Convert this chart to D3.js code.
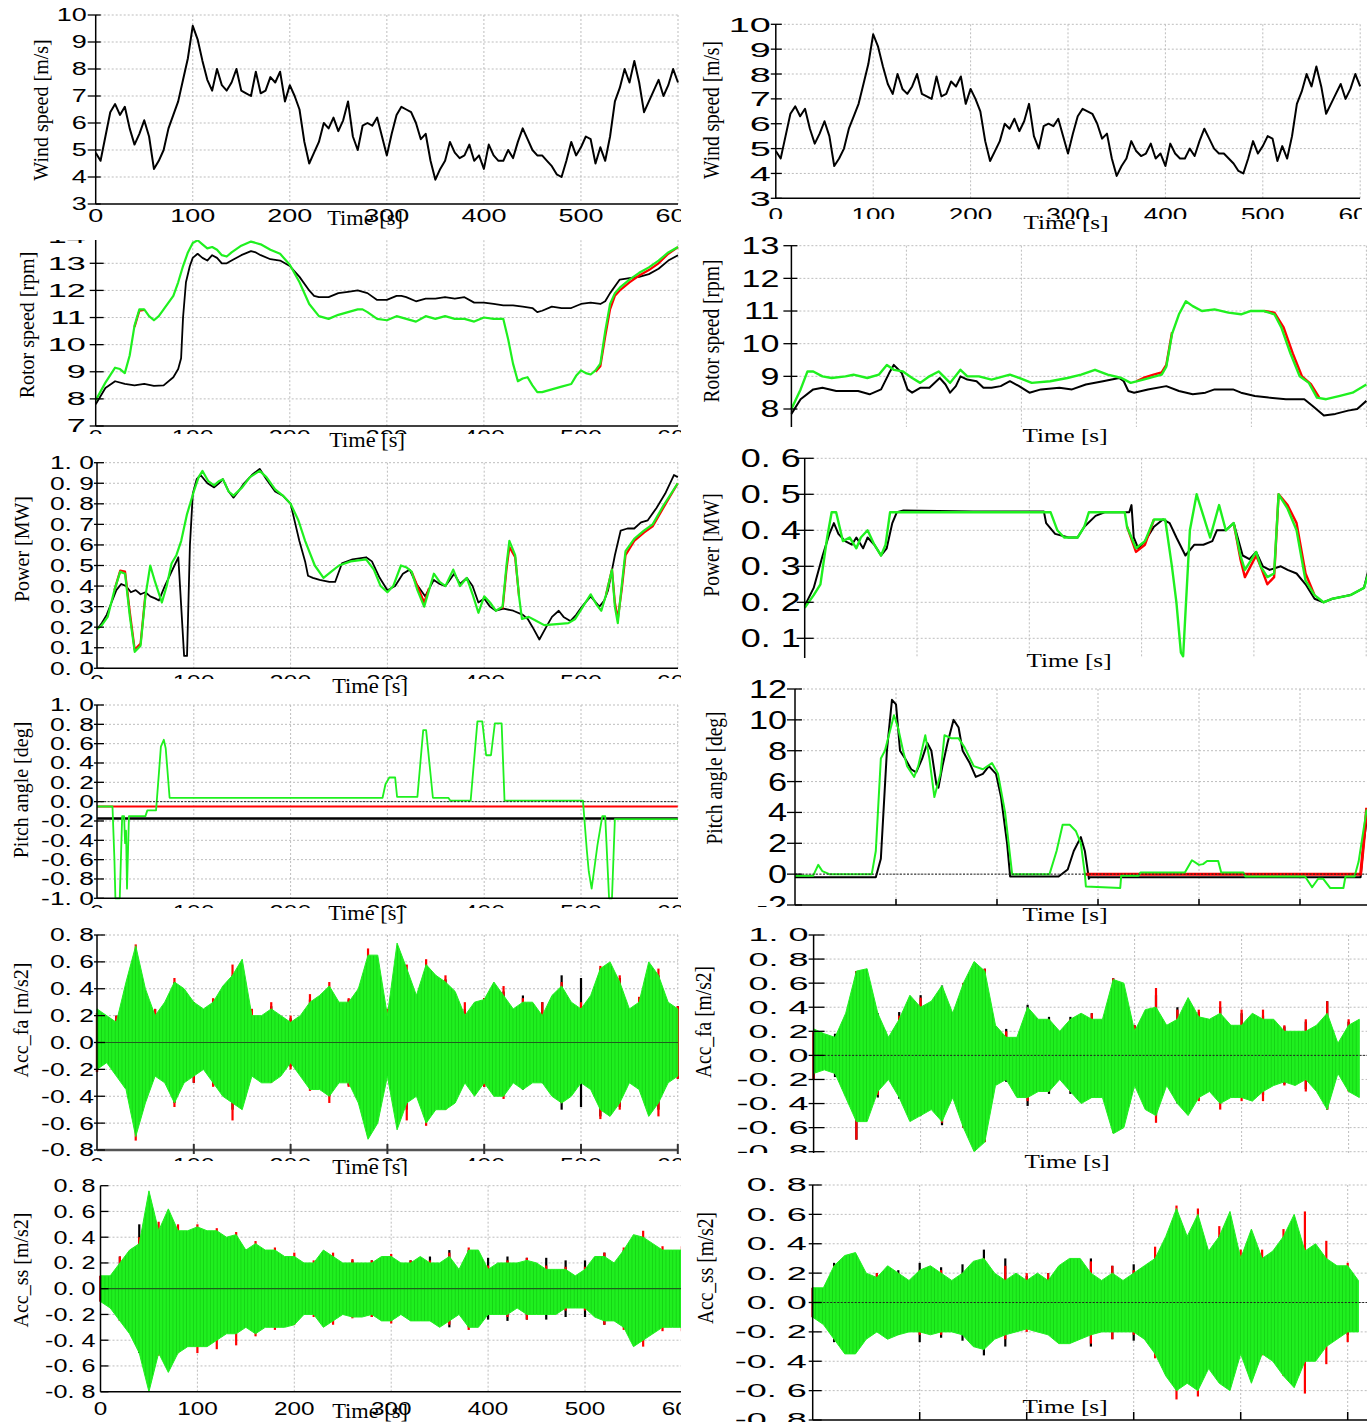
<!DOCTYPE html>
<html><head><meta charset="utf-8">
<script src="https://cdn.jsdelivr.net/npm/d3@7"></script>
<style>body{margin:0;background:#fff}svg{display:block}</style>
</head><body><svg id="c" width="1367" height="1422"></svg>
<script>
// ---------------- DATA ----------------
// wind speed [m/s], one value every 5 s (same record on both columns)
const windStep = 5;
const windSpeed = [4.9,4.6,5.5,6.4,6.7,6.3,6.6,5.8,5.2,5.6,6.1,5.5,4.3,4.6,5.0,5.8,6.3,6.8,7.6,8.4,
 9.6,9.1,8.3,7.6,7.2,8.0,7.4,7.2,7.5,8.0,7.2,7.1,7.0,7.9,7.1,7.2,7.7,7.5,7.9,6.8,
 7.4,7.0,6.5,5.3,4.5,4.9,5.3,6.0,5.8,6.2,5.7,6.1,6.8,5.5,5.0,5.9,6.0,5.9,6.2,5.5,
 4.8,5.6,6.3,6.6,6.5,6.4,6.0,5.4,5.6,4.6,3.9,4.3,4.6,5.3,4.9,4.7,4.8,5.2,4.6,4.8,
 4.3,5.2,4.8,4.6,4.6,5.0,4.7,5.3,5.8,5.4,5.0,4.8,4.8,4.6,4.4,4.1,4.0,4.6,5.3,4.8,
 5.1,5.5,5.4,4.5,5.1,4.6,5.5,6.8,7.3,8.0,7.5,8.3,7.5,6.4,6.8,7.2,7.6,7.0,7.4,8.0,7.5];

// rotor speed [rpm], left column  ([time s, value]; [null,null] = gap)
const rotorL_black = [[0,7.8],[10,8.4],[20,8.65],[30,8.55],[40,8.5],[50,8.55],[60,8.48],[70,8.5],[80,8.8],[85,9.1],[88,9.5],[90,11.0],[93,12.3],[97,12.9],[100,13.2],[105,13.35],[110,13.2],[115,13.1],[120,13.3],[125,13.2],[130,13.0],[135,13.0],[140,13.1],[150,13.3],[160,13.45],[165,13.4],[170,13.3],[180,13.15],[190,13.1],[200,12.9],[210,12.5],[220,12.0],[225,11.8],[230,11.75],[240,11.75],[250,11.9],[260,11.95],[270,12.0],[280,11.9],[290,11.65],[300,11.65],[310,11.8],[315,11.8],[320,11.75],[330,11.6],[340,11.7],[350,11.7],[360,11.75],[370,11.7],[380,11.75],[390,11.55],[400,11.55],[410,11.5],[420,11.45],[430,11.45],[440,11.4],[450,11.35],[455,11.2],[460,11.25],[470,11.4],[480,11.35],[490,11.35],[500,11.5],[510,11.55],[520,11.5],[525,11.6],[530,11.9],[540,12.4],[550,12.45],[560,12.5],[570,12.6],[580,12.8],[590,13.1],[600,13.3]];
const rotorL_green = [[0,7.95],[10,8.6],[20,9.15],[25,9.1],[30,8.95],[35,9.6],[40,10.7],[45,11.3],[50,11.3],[55,11.05],[60,10.9],[65,11.05],[70,11.3],[80,11.8],[85,12.3],[90,12.9],[95,13.4],[100,13.75],[105,13.85],[110,13.7],[115,13.55],[120,13.6],[125,13.5],[130,13.3],[135,13.25],[140,13.4],[150,13.65],[160,13.8],[165,13.75],[170,13.7],[180,13.5],[190,13.35],[200,12.95],[210,12.3],[220,11.5],[230,11.05],[240,10.95],[250,11.1],[260,11.2],[270,11.3],[275,11.3],[280,11.2],[290,10.95],[300,10.9],[310,11.05],[320,10.95],[330,10.85],[340,11.05],[350,10.95],[360,11.05],[370,10.95],[380,10.95],[390,10.85],[400,11.0],[410,10.95],[420,10.95],[425,10.2],[430,9.3],[435,8.65],[440,8.75],[445,8.8],[450,8.5],[455,8.25],[460,8.25],[470,8.35],[480,8.45],[490,8.55],[495,8.85],[500,9.05],[505,8.95],[510,8.9],[515,9.05],[520,9.3],[525,10.5],[530,11.5],[535,11.9],[540,12.1],[550,12.4],[560,12.65],[570,12.85],[580,13.1],[590,13.4],[600,13.6]];
const rotorL_red = [[40,10.65],[45,11.25],[50,11.28],[null,null],[515,9.0],[520,9.2],[525,10.3],[530,11.3],[535,11.8],[540,12.0],[550,12.3],[560,12.55],[570,12.75],[580,13.0],[590,13.35],[600,13.6]];

// power [MW], left column
const powerL_black = [[0,0.19],[5,0.22],[10,0.26],[15,0.32],[20,0.38],[25,0.41],[30,0.40],[35,0.37],[40,0.38],[45,0.36],[50,0.37],[55,0.35],[60,0.34],[64,0.33],[70,0.40],[75,0.45],[80,0.50],[84,0.54],[87,0.30],[90,0.06],[93,0.06],[96,0.60],[99,0.85],[103,0.92],[107,0.94],[114,0.90],[121,0.88],[126,0.90],[130,0.92],[136,0.86],[141,0.83],[146,0.86],[152,0.90],[160,0.94],[168,0.97],[175,0.92],[184,0.86],[192,0.84],[200,0.80],[205,0.70],[209,0.62],[215,0.52],[218,0.45],[223,0.44],[230,0.43],[240,0.42],[246,0.42],[253,0.51],[264,0.53],[278,0.54],[284,0.52],[292,0.44],[300,0.38],[308,0.40],[316,0.46],[323,0.48],[330,0.41],[339,0.35],[348,0.43],[354,0.41],[360,0.40],[369,0.46],[375,0.41],[382,0.44],[388,0.40],[394,0.32],[400,0.34],[406,0.30],[412,0.28],[420,0.29],[430,0.28],[440,0.26],[445,0.24],[450,0.20],[457,0.14],[464,0.20],[470,0.25],[477,0.28],[482,0.25],[489,0.23],[495,0.26],[501,0.30],[510,0.35],[519,0.30],[524,0.33],[528,0.38],[535,0.55],[541,0.67],[548,0.68],[555,0.68],[562,0.71],[569,0.72],[578,0.78],[587,0.85],[596,0.94],[600,0.93]];
const powerL_green = [[0,0.19],[5,0.21],[11,0.25],[18,0.38],[24,0.47],[29,0.46],[34,0.25],[39,0.08],[45,0.11],[50,0.35],[55,0.50],[60,0.42],[67,0.32],[72,0.40],[77,0.51],[82,0.55],[87,0.62],[93,0.75],[100,0.86],[105,0.93],[109,0.96],[115,0.91],[121,0.89],[126,0.91],[130,0.92],[136,0.86],[141,0.84],[150,0.88],[158,0.93],[168,0.96],[175,0.93],[184,0.87],[192,0.84],[200,0.80],[208,0.72],[215,0.62],[225,0.50],[234,0.44],[242,0.47],[250,0.50],[262,0.52],[278,0.53],[286,0.48],[293,0.40],[300,0.37],[306,0.40],[314,0.50],[320,0.49],[325,0.47],[331,0.38],[338,0.30],[343,0.38],[348,0.46],[354,0.42],[360,0.40],[368,0.48],[375,0.40],[382,0.44],[388,0.36],[394,0.27],[400,0.35],[406,0.32],[412,0.28],[419,0.30],[423,0.50],[426,0.62],[432,0.55],[436,0.35],[439,0.24],[446,0.25],[454,0.23],[462,0.21],[475,0.215],[487,0.22],[494,0.24],[502,0.30],[510,0.36],[516,0.31],[521,0.28],[526,0.36],[532,0.48],[535,0.30],[538,0.22],[542,0.40],[546,0.57],[555,0.63],[565,0.67],[574,0.70],[585,0.79],[600,0.90]];
const powerL_red = [[18,0.38],[24,0.475],[29,0.47],[34,0.27],[39,0.09],[45,0.12],[50,0.36],[null,null],[325,0.47],[331,0.40],[338,0.32],[343,0.39],[null,null],[419,0.29],[423,0.48],[426,0.59],[432,0.54],[436,0.35],[null,null],[526,0.36],[532,0.48],[535,0.32],[538,0.24],[542,0.38],[546,0.55],[555,0.62],[565,0.66],[574,0.69],[585,0.78],[600,0.90]];

// pitch angle [deg], left column
const pitchL_black = [[0,-0.175],[600,-0.175]];
const pitchL_red = [[0,-0.05],[600,-0.05]];
const pitchL_green = [[0,-0.05],[16,-0.05],[18,-0.6],[19,-1.0],[23.5,-1.0],[26,-0.15],[28,-0.15],[29,-0.43],[30,-0.3],[31,-0.9],[33,-0.15],[50,-0.15],[52,-0.09],[61,-0.09],[64,0.3],[66,0.57],[69,0.64],[71,0.55],[75,0.04],[295,0.04],[298,0.18],[302,0.25],[308,0.25],[310,0.05],[331,0.05],[337,0.74],[340,0.74],[347,0.04],[363,0.04],[365,0.01],[386,0.01],[393,0.83],[398,0.83],[402,0.48],[407,0.48],[411,0.81],[418,0.81],[421,0.01],[502,0.01],[506,-0.5],[508,-0.72],[511,-0.9],[515,-0.6],[517,-0.45],[522,-0.15],[525,-0.15],[529,-1.0],[532,-1.0],[535,-0.18],[600,-0.18]];

// tower accelerations [m/s2]: green upper / lower envelopes every 10 s, black & red peak amplitudes every 20 s
const accStep = 10, ampStep = 20;
const accfaL_up = [.25,.2,.15,.45,.72,.4,.2,.3,.45,.4,.3,.25,.3,.42,.5,.62,.2,.2,.25,.2,.15,.2,.3,.35,.42,.3,.3,.4,.65,.65,.2,.74,.55,.35,.58,.5,.45,.38,.2,.3,.32,.45,.35,.25,.3,.3,.2,.35,.42,.3,.25,.35,.55,.6,.45,.25,.3,.6,.5,.3,.25];
const accfaL_lo = [.2,.15,.25,.35,.7,.45,.25,.3,.45,.3,.25,.2,.3,.4,.45,.5,.25,.3,.3,.25,.15,.25,.35,.35,.4,.3,.3,.45,.72,.6,.25,.65,.45,.4,.6,.5,.5,.45,.3,.4,.3,.4,.4,.3,.35,.3,.3,.4,.45,.4,.3,.35,.5,.55,.45,.3,.35,.55,.45,.3,.25];
const accfaL_black = [.22,.2,.6,.25,.45,.3,.32,.5,.25,.27,.18,.32,.4,.32,.62,.25,.5,.55,.47,.25,.33,.38,.35,.3,.5,.48,.55,.48,.32,.5,.27];
const accfaL_red = [.22,.2,.73,.25,.48,.3,.33,.58,.25,.3,.2,.36,.45,.33,.7,.25,.58,.62,.5,.3,.33,.42,.33,.3,.45,.3,.57,.5,.34,.55,.27];
const accssL_up = [.1,.1,.2,.3,.35,.76,.45,.62,.45,.45,.48,.45,.45,.4,.42,.3,.35,.3,.3,.25,.25,.2,.2,.3,.25,.2,.2,.2,.2,.25,.25,.2,.2,.25,.2,.2,.25,.15,.3,.3,.15,.2,.2,.2,.22,.2,.15,.15,.15,.1,.15,.25,.25,.2,.3,.42,.4,.35,.3,.3,.3];
const accssL_lo = [.1,.15,.25,.35,.5,.8,.5,.65,.5,.45,.45,.45,.4,.35,.35,.3,.35,.3,.3,.3,.28,.2,.2,.3,.25,.2,.22,.22,.2,.25,.25,.2,.25,.25,.25,.3,.25,.2,.3,.3,.2,.2,.2,.15,.2,.2,.2,.2,.15,.15,.15,.22,.25,.25,.3,.45,.4,.35,.3,.3,.3];
const accssL_black = [.1,.25,.5,.45,.45,.42,.32,.3,.32,.25,.22,.2,.22,.22,.22,.2,.22,.25,.3,.3,.24,.25,.24,.24,.22,.22,.28,.3,.4,.3,.3];
const accssL_red = [.1,.25,.4,.52,.5,.5,.47,.44,.37,.32,.28,.22,.28,.23,.22,.27,.22,.22,.28,.32,.18,.22,.24,.18,.17,.17,.28,.32,.45,.33,.33];
const accfaR_up = [.22,.18,.15,.35,.7,.72,.35,.15,.3,.5,.4,.45,.58,.35,.6,.78,.7,.25,.15,.15,.4,.3,.3,.2,.3,.35,.3,.3,.63,.6,.2,.38,.4,.25,.3,.48,.32,.3,.35,.25,.25,.35,.3,.3,.2,.2,.2,.25,.35,.1,.25,.3];
const accfaR_lo = [.15,.12,.15,.35,.55,.55,.3,.2,.35,.55,.5,.45,.55,.35,.6,.8,.72,.25,.2,.35,.35,.3,.3,.2,.3,.4,.35,.35,.65,.6,.25,.45,.5,.25,.4,.5,.35,.3,.4,.35,.35,.38,.3,.25,.22,.25,.2,.3,.45,.15,.3,.35];
const accfaR_black = [.2,.18,.7,.35,.36,.5,.58,.6,.72,.22,.42,.32,.32,.35,.64,.25,.5,.4,.36,.4,.35,.33,.24,.28,.45,.28,.3];
const accfaR_red = [.2,.15,.7,.33,.33,.48,.56,.6,.72,.2,.38,.3,.3,.35,.64,.25,.56,.38,.38,.45,.38,.38,.25,.3,.45,.3,.38];
const accssR_up = [.1,.1,.25,.32,.34,.2,.17,.25,.2,.15,.22,.25,.2,.15,.2,.28,.3,.2,.15,.2,.15,.2,.15,.25,.3,.3,.2,.15,.2,.15,.2,.25,.3,.45,.64,.45,.6,.35,.45,.62,.3,.5,.3,.35,.45,.6,.35,.4,.3,.25,.25,.15];
const accssR_lo = [.1,.15,.25,.35,.35,.25,.2,.25,.22,.2,.2,.22,.2,.2,.22,.3,.32,.25,.22,.2,.18,.2,.22,.28,.28,.25,.22,.2,.2,.2,.2,.25,.35,.5,.6,.55,.6,.45,.55,.6,.35,.55,.35,.4,.5,.58,.4,.4,.3,.25,.2,.2];
const accssR_black = [.1,.27,.3,.2,.22,.27,.24,.26,.36,.3,.18,.2,.25,.3,.25,.26,.3,.4,.45,.45,.3,.3,.4,.35,.25,.22,.15];
const accssR_red = [.1,.25,.32,.2,.2,.22,.22,.2,.3,.25,.2,.2,.22,.28,.25,.22,.38,.66,.64,.52,.36,.36,.5,.62,.42,.27,.2];

// right column
const rotorR_black = [[0,7.85],[8,8.3],[19,8.6],[27,8.65],[39,8.55],[58,8.55],[68,8.45],[78,8.6],[85,9.1],[89,9.35],[96,9.1],[101,8.6],[105,8.5],[112,8.65],[120,8.65],[129,8.95],[134,8.75],[138,8.5],[143,8.7],[147,9.0],[153,8.9],[161,8.85],[167,8.65],[174,8.65],[182,8.7],[190,8.85],[198,8.7],[207,8.5],[217,8.6],[233,8.65],[244,8.6],[256,8.75],[271,8.85],[285,8.95],[289,8.85],[293,8.55],[298,8.5],[310,8.6],[326,8.7],[337,8.55],[349,8.45],[360,8.5],[368,8.6],[384,8.6],[391,8.5],[403,8.4],[415,8.35],[430,8.3],[446,8.3],[453,8.1],[463,7.8],[473,7.85],[484,7.95],[492,8.0],[500,8.25]];
const rotorR_green = [[0,8.0],[8,8.6],[14,9.15],[19,9.15],[27,9.0],[35,8.95],[47,9.0],[54,9.05],[66,8.95],[76,9.05],[83,9.35],[89,9.2],[97,9.15],[105,8.95],[112,8.8],[120,9.0],[128,9.15],[138,8.8],[147,9.2],[153,9.0],[163,9.0],[174,8.9],[190,9.05],[198,8.95],[209,8.8],[225,8.85],[240,8.95],[252,9.05],[264,9.2],[275,9.05],[287,8.95],[295,8.8],[306,8.9],[322,9.05],[326,9.3],[331,10.3],[337,10.9],[343,11.3],[349,11.15],[357,11.0],[368,11.05],[380,10.95],[391,10.9],[399,11.0],[411,11.0],[420,10.9],[426,10.5],[434,9.7],[442,9.0],[450,8.8],[457,8.35],[465,8.3],[477,8.4],[488,8.5],[500,8.75]];
const rotorR_red = [[300,8.85],[306,8.95],[315,9.05],[322,9.12],[326,9.35],[331,10.35],[null,null],[411,11.0],[420,10.95],[428,10.5],[436,9.7],[444,9.0],[452,8.75],[459,8.35]];
const powerR_black = [[0,0.19],[8,0.24],[16,0.33],[22,0.39],[26,0.42],[30,0.39],[36,0.37],[42,0.36],[46,0.38],[52,0.35],[56,0.38],[62,0.36],[68,0.33],[73,0.35],[78,0.42],[82,0.45],[88,0.455],[150,0.452],[213,0.452],[215,0.42],[223,0.39],[235,0.38],[243,0.38],[249,0.41],[259,0.44],[267,0.45],[289,0.45],[291,0.47],[293,0.38],[297,0.35],[303,0.37],[311,0.41],[319,0.43],[325,0.42],[331,0.38],[339,0.33],[347,0.36],[355,0.36],[363,0.37],[367,0.40],[375,0.40],[382,0.42],[390,0.33],[396,0.32],[402,0.34],[408,0.30],[414,0.29],[424,0.30],[430,0.29],[438,0.28],[446,0.25],[454,0.21],[462,0.20],[470,0.21],[486,0.22],[498,0.24],[502,0.29]];
const powerR_green = [[0,0.185],[8,0.22],[14,0.25],[20,0.38],[24,0.45],[28,0.45],[34,0.37],[40,0.38],[46,0.35],[50,0.38],[56,0.40],[62,0.36],[68,0.33],[72,0.36],[76,0.45],[80,0.45],[219,0.45],[225,0.40],[231,0.38],[243,0.38],[249,0.41],[253,0.45],[285,0.45],[287,0.41],[295,0.35],[303,0.37],[311,0.43],[321,0.43],[327,0.30],[331,0.20],[335,0.06],[337,0.05],[343,0.40],[349,0.50],[355,0.44],[361,0.38],[369,0.47],[375,0.40],[382,0.42],[388,0.33],[392,0.29],[402,0.34],[406,0.30],[412,0.27],[418,0.28],[422,0.50],[430,0.46],[438,0.40],[446,0.26],[454,0.22],[462,0.20],[470,0.21],[486,0.22],[498,0.24],[502,0.28]];
const powerR_red = [[287,0.41],[295,0.34],[303,0.36],[311,0.43],[null,null],[382,0.42],[388,0.32],[392,0.27],[402,0.33],[406,0.30],[412,0.25],[418,0.27],[422,0.50],[430,0.47],[438,0.42],[446,0.28],[454,0.22]];
const pitchR_black = [[0,-0.2],[80,-0.2],[85,1.0],[91,8.0],[96,11.3],[100,11.0],[104,8.0],[109,7.5],[115,6.8],[120,6.6],[126,7.5],[131,8.5],[135,8.0],[140,5.8],[142,5.6],[146,7.0],[151,8.5],[157,10.0],[162,9.5],[166,8.0],[173,7.2],[179,6.3],[186,6.5],[192,7.0],[199,6.5],[204,5.0],[210,2.0],[213,-0.15],[261,-0.15],[270,0.3],[276,1.5],[283,2.4],[287,1.5],[291,-0.3],[292,-0.2],[560,-0.2],[563,2.0],[566,3.5]];
const pitchR_green = [[0,-0.1],[18,-0.1],[23,0.6],[27,0.2],[34,0.0],[76,0.0],[80,1.5],[85,7.5],[89,8.0],[98,10.3],[102,9.5],[107,8.0],[111,7.0],[118,6.3],[122,7.0],[129,9.0],[133,7.5],[138,5.0],[144,6.5],[148,9.0],[155,8.8],[162,8.8],[168,8.2],[177,7.0],[186,6.8],[195,7.2],[201,6.5],[208,4.0],[215,0.0],[252,0.0],[259,1.5],[265,3.2],[272,3.2],[278,2.8],[283,2.0],[287,0.0],[288,-0.8],[322,-0.9],[323,-0.1],[340,-0.1],[342,0.1],[386,0.1],[393,0.9],[400,0.6],[404,0.65],[408,0.85],[419,0.85],[422,0.1],[444,0.1],[446,-0.15],[505,-0.15],[512,-0.85],[518,-0.3],[523,-0.3],[530,-0.9],[543,-0.9],[545,-0.15],[554,-0.15],[558,0.8],[566,4.2]];
const pitchR_red = [[287,0.0],[560,0.0],[563,2.0],[566,4.3]];

const xTickValues = [0,100,200,300,400,500,600];
const ticksWind = [3,4,5,6,7,8,9,10];
const ticksRotorL = [7,8,9,10,11,12,13,14];
const ticksRotorR = [8,9,10,11,12,13];
const ticksPowerL = [0,0.1,0.2,0.3,0.4,0.5,0.6,0.7,0.8,0.9,1.0];
const ticksPowerR = [0.1,0.2,0.3,0.4,0.5,0.6];
const ticksPitchL = [-1,-0.8,-0.6,-0.4,-0.2,0,0.2,0.4,0.6,0.8,1.0];
const ticksPitchR = [-2,0,2,4,6,8,10,12];
const ticksAcc = [-0.8,-0.6,-0.4,-0.2,0,0.2,0.4,0.6,0.8];
const ticksAccFaR = [-0.8,-0.6,-0.4,-0.2,0,0.2,0.4,0.6,0.8,1.0];
const titles = ['Wind speed [m/s]','Rotor speed [rpm]','Power [MW]','Pitch angle [deg]','Acc_fa [m/s2]','Acc_ss [m/s2]'];
const timeTitle = 'Time [s]';

// ---------------- DRAWING ----------------
const BLACK='#000', RED='#ff0000', GREEN='#1ff01f';
const fmtInt = d => d < 0 ? '-' + (-d) : String(d);
const fmtDec = d => (Math.abs(d) < 1e-9 ? 0 : d).toFixed(1).replace('.', '. ');
const pairs = (vals, step) => vals.map((v,i) => [i*step, v]);
const windPairs = pairs(windSpeed, windStep);

const L = {clipX:[0,681]}, R = {clipX:[682,1367]};
const panels = [
 {col:L, clipY:[0,232], x0:95.7, px100:97.05, yd:[3,10], yr:[204,15], ticks:ticksWind, fmt:fmtInt, fs:18, sx:1.5, tl:8, tr:5, gap:9,
  title:0, tx:41, ty:110, tsx:1.05, timeX:365, timeY:225, xlab:{y:222, fs:18, sx:1.5}, mask:null, yBot:204, xEnd:678,
  series:[{type:'line', d:windPairs, c:BLACK, w:2}]},
 {col:L, clipY:[240,453], x0:95.7, px100:97.05, yd:[7,13], yr:[426,263.3], ticks:ticksRotorL, fmt:fmtInt, fs:18, sx:1.9, tl:6, tr:8, gap:10,
  title:1, tx:27, ty:325, tsx:1.05, timeX:367, timeY:447, xlab:{y:443, fs:18, sx:1.4}, mask:434, yBot:426, xEnd:678,
  series:[{type:'line', d:rotorL_black, c:BLACK, w:1.8},{type:'line', d:rotorL_red, c:RED, w:2.2},{type:'line', d:rotorL_green, c:GREEN, w:2.2}]},
 {col:L, clipY:[453,696], x0:97, px100:96.8, yd:[0,1], yr:[668.3,462.7], ticks:ticksPowerL, fmt:fmtDec, fs:18, sx:1.47, tl:3, tr:7, gap:3,
  title:2, tx:22, ty:549, tsx:1.05, timeX:370, timeY:693, xlab:{y:688, fs:18, sx:1.4}, mask:679, yBot:668.3, xEnd:678,
  series:[{type:'line', d:powerL_black, c:BLACK, w:1.8},{type:'line', d:powerL_red, c:RED, w:2.2},{type:'line', d:powerL_green, c:GREEN, w:2.2}]},
 {col:L, clipY:[696,924], x0:97, px100:96.8, yd:[-1,1], yr:[898.3,705], ticks:ticksPitchL, fmt:fmtDec, fs:18, sx:1.47, tl:3, tr:7, gap:3,
  title:3, tx:21, ty:790, tsx:1.05, timeX:366, timeY:920, xlab:{y:918, fs:18, sx:1.4}, mask:908, yBot:898.3, xEnd:678, zero:'dot',
  series:[{type:'line', d:pitchL_black, c:BLACK, w:2.5},{type:'line', d:pitchL_red, c:RED, w:2.2},{type:'line', d:pitchL_green, c:GREEN, w:1.8}]},
 {col:L, clipY:[924,1176], x0:97, px100:96.8, yd:[-0.8,0.8], yr:[1150,935], ticks:ticksAcc, fmt:fmtDec, fs:18, sx:1.47, tl:3, tr:8, gap:3,
  title:4, tx:21, ty:1020, tsx:1.05, timeX:370, timeY:1174, xlab:{y:1171, fs:18, sx:1.4}, mask:1161, yBot:1150, xEnd:678, zero:'solid', grayAxis:true,
  series:[{type:'spikes', a:accfaL_black, c:BLACK},{type:'spikes', a:accfaL_red, c:RED},{type:'band', up:accfaL_up, lo:accfaL_lo}]},
 {col:L, clipY:[1176,1422], x0:100.5, px100:96.9, yd:[-0.8,0.8], yr:[1391.7,1185.7], ticks:ticksAcc, fmt:fmtDec, fs:18, sx:1.4, tl:0, tr:8, gap:5,
  title:5, tx:21, ty:1270, tsx:1.05, timeX:370, timeY:1418, xlab:{y:1415, fs:18, sx:1.35}, mask:null, yBot:1391.7, xEnd:682, zero:'solid',
  series:[{type:'spikes', a:accssL_black, c:BLACK},{type:'spikes', a:accssL_red, c:RED},{type:'band', up:accssL_up, lo:accssL_lo}]},

 {col:R, clipY:[0,235], clipR:1362, x0:775.8, px100:97.4, yd:[3,10], yr:[198.3,24.3], ticks:ticksWind, fmt:fmtInt, fs:21, sx:1.8, tl:5, tr:6, gap:5,
  title:0, tx:711, ty:110, tsx:1.15, timeX:1066, timeY:229, tfs:18, tsx2:1.4, xlab:{y:221, fs:18, sx:1.45}, mask:219, yBot:198.3, xEnd:1360,
  series:[{type:'line', d:windPairs, c:BLACK, w:2}]},
 {col:R, clipY:[235,447], x0:791.4, px100:115, yd:[8,13], yr:[409,245.7], ticks:ticksRotorR, fmt:fmtInt, fs:23, sx:1.48, tl:8, tr:6, gap:12,
  title:1, tx:711, ty:331, tsx:1.15, timeX:1065, timeY:442, tfs:18, tsx2:1.4, xlab:null, mask:427, yBot:428, xEnd:1367,
  series:[{type:'line', d:rotorR_black, c:BLACK, w:2},{type:'line', d:rotorR_red, c:RED, w:2.4},{type:'line', d:rotorR_green, c:GREEN, w:2.4}]},
 {col:R, clipY:[447,676], x0:804.7, px100:112.3, yd:[0.1,0.6], yr:[638.3,458.3], ticks:ticksPowerR, fmt:fmtDec, fs:25, sx:1.44, tl:8, tr:9, gap:4,
  title:2, tx:711, ty:545, tsx:1.15, timeX:1069, timeY:667, tfs:18, tsx2:1.4, xlab:null, mask:658, yBot:659, xEnd:1367,
  series:[{type:'line', d:powerR_black, c:BLACK, w:2},{type:'line', d:powerR_red, c:RED, w:2.4},{type:'line', d:powerR_green, c:GREEN, w:2.4}]},
 {col:R, clipY:[676,925], x0:795, px100:101, yd:[-2,12], yr:[905,689], ticks:ticksPitchR, fmt:fmtInt, fs:25, sx:1.37, tl:8, tr:7, gap:8,
  title:3, tx:714, ty:778, tsx:1.15, timeX:1065, timeY:921, tfs:18, tsx2:1.4, xlab:null, mask:907, yBot:905, xEnd:1367, zero:'dot', xTickUp:6,
  series:[{type:'line', d:pitchR_black, c:BLACK, w:2},{type:'line', d:pitchR_red, c:RED, w:3},{type:'line', d:pitchR_green, c:GREEN, w:2}]},
 {col:R, clipY:[925,1176], x0:813.6, px100:107, yd:[-0.8,1.0], yr:[1151.7,935], ticks:ticksAccFaR, fmt:fmtDec, fs:18, sx:2.0, tl:5, tr:11, gap:5,
  title:4, tx:703, ty:1022, tsx:1.15, timeX:1067, timeY:1168, tfs:18, tsx2:1.4, xlab:null, mask:1153, yBot:1155, xEnd:1367, zero:'dot',
  series:[{type:'spikes', a:accfaR_black, c:BLACK},{type:'spikes', a:accfaR_red, c:RED},{type:'band', up:accfaR_up, lo:accfaR_lo}]},
 {col:R, clipY:[1176,1422], x0:812.7, px100:107, yd:[-0.8,0.8], yr:[1420,1185], ticks:ticksAcc, fmt:fmtDec, fs:18, sx:2.0, tl:4, tr:9, gap:6,
  title:5, tx:705, ty:1268, tsx:1.15, timeX:1065, timeY:1413, tfs:18, tsx2:1.4, xlab:null, mask:null, yBot:1420, xEnd:1367, zero:'dot', xTickUp:8,
  series:[{type:'spikes', a:accssR_black, c:BLACK},{type:'spikes', a:accssR_red, c:RED},{type:'band', up:accssR_up, lo:accssR_lo}]}
];

const SANS='"Liberation Sans", Arial, Helvetica, sans-serif';
const SERIF='"Liberation Serif", "Times New Roman", Times, serif';
const svg = d3.select('#c');
svg.append('rect').attr('width',1367).attr('height',1422).attr('fill','#fff');
const defs = svg.append('defs');
const pat = defs.append('pattern').attr('id','gp').attr('width',3.4).attr('height',10).attr('patternUnits','userSpaceOnUse');
pat.append('rect').attr('width',3.4).attr('height',10).attr('fill',GREEN);
pat.append('rect').attr('x',2.5).attr('width',0.9).attr('height',10).attr('fill','#14d214');

panels.forEach((p,i) => {
  const cx0 = p.col.clipX[0], cx1 = p.clipR || p.col.clipX[1];
  defs.append('clipPath').attr('id','cp'+i).append('rect')
    .attr('x',cx0).attr('y',p.clipY[0]).attr('width',cx1-cx0).attr('height',p.clipY[1]-p.clipY[0]);
  const g = svg.append('g').attr('clip-path',`url(#cp${i})`);
  const x = d3.scaleLinear().domain([0,100]).range([p.x0, p.x0+p.px100]);
  const y = d3.scaleLinear().domain(p.yd).range(p.yr);
  const yTop = y(d3.max(p.ticks));
  const yBot = p.yBot;

  // grid
  const grid = g.append('g').attr('stroke','#bdbdbd').attr('stroke-width',1).attr('stroke-dasharray','2,2').attr('fill','none');
  xTickValues.filter(t => t > 0 && x(t) <= cx1 + 2).forEach(t => {
    grid.append('line').attr('x1',x(t)).attr('x2',x(t)).attr('y1',yTop).attr('y2',yBot);
  });
  p.ticks.forEach(v => {
    if (Math.abs(y(v) - yBot) < 1.5) return;
    grid.append('line').attr('x1',p.x0).attr('x2',p.xEnd).attr('y1',y(v)).attr('y2',y(v));
  });

  // data
  const lineGen = d3.line().defined(d => d[0] !== null && d[1] !== null).x(d => x(d[0])).y(d => y(d[1]));
  p.series.forEach(s => {
    if (s.type === 'line') {
      g.append('path').attr('d', lineGen(s.d)).attr('fill','none').attr('stroke',s.c)
        .attr('stroke-width',s.w).attr('stroke-linejoin','round');
    } else if (s.type === 'band') {
      const area = d3.area().x((d,k) => x(k*accStep)).y0((d,k) => y(-s.lo[k])).y1((d,k) => y(s.up[k]));
      g.append('path').attr('d', area(s.up)).attr('fill','url(#gp)').attr('stroke',GREEN).attr('stroke-width',1);
    } else if (s.type === 'spikes') {
      g.append('g').selectAll('line').data(s.a).join('line')
        .attr('x1',(d,k) => x(k*ampStep)).attr('x2',(d,k) => x(k*ampStep))
        .attr('y1', d => y(d)).attr('y2', d => y(-d))
        .attr('stroke', s.c).attr('stroke-width', 2.2);
    }
  });
  if (p.zero === 'dot') {
    g.append('line').attr('x1',p.x0).attr('x2',p.xEnd).attr('y1',y(0)).attr('y2',y(0))
      .attr('stroke','#222').attr('stroke-width',1).attr('stroke-dasharray','2,1.5');
  } else if (p.zero === 'solid') {
    g.append('line').attr('x1',p.x0).attr('x2',p.xEnd).attr('y1',y(0)).attr('y2',y(0))
      .attr('stroke','#1f5f1f').attr('stroke-width',1.2);
  }

  // axes
  g.append('line').attr('x1',p.x0).attr('x2',p.x0).attr('y1',yTop).attr('y2',yBot).attr('stroke','#000').attr('stroke-width',1.5);
  g.append('line').attr('x1',p.x0).attr('x2',p.xEnd).attr('y1',yBot).attr('y2',yBot)
    .attr('stroke', p.grayAxis ? '#555' : '#000').attr('stroke-width', p.grayAxis ? 2.5 : 1.5);
  if (p.xTickUp) {
    xTickValues.filter(t => t > 0).forEach(t => g.append('line').attr('x1',x(t)).attr('x2',x(t))
      .attr('y1',yBot).attr('y2',yBot - p.xTickUp).attr('stroke','#000').attr('stroke-width',1.5));
  }
  if (p.grayAxis) {
    xTickValues.filter(t => t > 0).forEach(t => g.append('line').attr('x1',x(t)).attr('x2',x(t))
      .attr('y1',yBot-6).attr('y2',yBot + 4).attr('stroke','#333').attr('stroke-width',2));
  }

  // y ticks + labels
  p.ticks.forEach(v => {
    const yy = y(v);
    g.append('line').attr('x1',p.x0 - p.tl).attr('x2',p.x0 + p.tr).attr('y1',yy).attr('y2',yy)
      .attr('stroke','#000').attr('stroke-width',1.3);
    g.append('text').attr('transform',`translate(${p.x0 - p.gap},${yy}) scale(${p.sx},1)`)
      .attr('text-anchor','end').attr('dy','0.36em')
      .attr('font-family',SANS).attr('font-size',p.fs).attr('fill','#000').text(p.fmt(v));
  });

  // x tick labels
  if (p.xlab) {
    xTickValues.forEach(t => {
      g.append('text').attr('transform',`translate(${x(t)},${p.xlab.y}) scale(${p.xlab.sx},1)`)
        .attr('text-anchor','middle').attr('font-family',SANS).attr('font-size',p.xlab.fs).attr('fill','#000').text(t);
    });
  }
  // cut-off strip below the plot
  if (p.mask !== null) {
    g.append('rect').attr('x',cx0).attr('y',p.mask).attr('width',cx1-cx0).attr('height',p.clipY[1]-p.mask).attr('fill','#fff');
  }
  // axis titles
  const tfs = p.tfs || 20, tsx = p.tsx2 || 1.12;
  g.append('text').attr('transform',`translate(${p.timeX},${p.timeY}) scale(${tsx},1)`)
    .attr('text-anchor','middle').attr('font-family',SERIF).attr('font-size',tfs).attr('fill','#000').text(timeTitle);
  g.append('text').attr('transform',`translate(${p.tx},${p.ty}) scale(${p.tsx},1) rotate(-90)`)
    .attr('text-anchor','middle').attr('dy','0.35em').attr('font-family',SERIF).attr('font-size',p.col===L?20:19.5)
    .attr('fill','#000').text(titles[p.title]);
});
</script></body></html>
